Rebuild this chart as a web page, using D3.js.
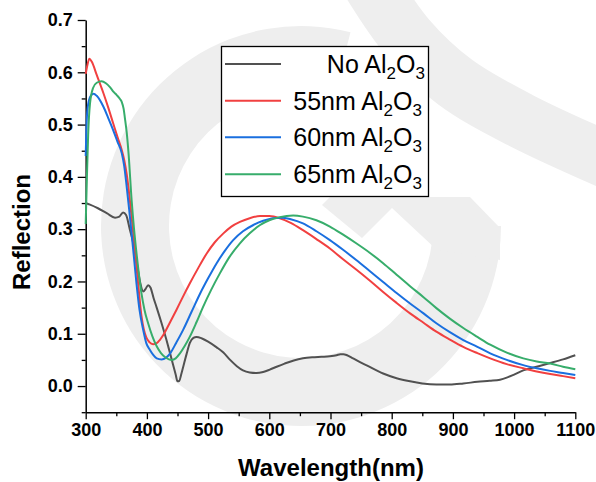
<!DOCTYPE html>
<html>
<head>
<meta charset="utf-8">
<script src="https://cdn.jsdelivr.net/npm/d3@7/dist/d3.min.js"></script>
<style>
  html, body { margin: 0; padding: 0; background: #ffffff; }
  svg { display: block; }
  text { font-family: "Liberation Sans", Arial, sans-serif; }
</style>
</head>
<body>
<svg id="chart" width="596" height="482"></svg>
<script>
// ---------------- DATA ----------------
const seriesNames = ["No", "55nm", "60nm", "65nm"];
const seriesColors = ["#515151", "#F14040", "#1A6FDF", "#37AD6B"];

const noAlX = [300,307,320,335,348,355,361,366,372,378,384,389,394,398,402,406,411,416,424,432,438,443,447,450,453,456,460,465,470,476,481,490,500,514,525,536,547,557,568,579,590,600,612,625,640,655,670,685,699,710,716,721,727,735,743,760,786,808,830,850,873,895,917,940,960,977,990,1000,1015,1040,1059,1080,1100];
const noAlY = [0.350,0.347,0.340,0.330,0.322,0.324,0.332,0.327,0.300,0.272,0.232,0.198,0.181,0.186,0.193,0.188,0.168,0.150,0.120,0.088,0.062,0.040,0.022,0.009,0.010,0.022,0.040,0.062,0.082,0.092,0.094,0.091,0.085,0.074,0.064,0.050,0.038,0.030,0.026,0.025,0.027,0.031,0.037,0.043,0.049,0.053,0.055,0.056,0.057,0.059,0.061,0.061,0.059,0.054,0.049,0.039,0.024,0.015,0.009,0.005,0.003,0.003,0.005,0.008,0.010,0.012,0.017,0.022,0.030,0.038,0.044,0.051,0.059];

const al55X = [300,303,306,310,318,329,337,345,352,359,363,367,371,375,379,383,387,391,395,399,404,410,416,421,427,437,448,459,470,484,498,511,525,538,552,568,585,600,617,635,655,677,699,720,743,765,786,808,830,852,873,895,917,940,961,988,1015,1037,1059,1080,1100];
const al55Y = [0.597,0.615,0.626,0.620,0.595,0.560,0.532,0.502,0.476,0.451,0.432,0.405,0.368,0.324,0.276,0.228,0.180,0.135,0.108,0.093,0.084,0.080,0.082,0.088,0.098,0.120,0.145,0.171,0.196,0.226,0.254,0.275,0.292,0.305,0.314,0.321,0.325,0.325,0.321,0.312,0.298,0.281,0.263,0.243,0.222,0.201,0.180,0.159,0.139,0.121,0.104,0.089,0.075,0.063,0.053,0.042,0.034,0.028,0.023,0.019,0.015];

const al60X = [300,302,305,309,313,318,329,337,345,352,359,363,367,371,375,379,383,388,394,399,405,410,416,424,431,438,448,459,473,487,500,514,527,541,557,574,590,606,620,635,655,677,699,720,742,764,786,808,830,852,873,895,917,940,961,988,1015,1037,1059,1080,1100];
const al60Y = [0.440,0.515,0.545,0.556,0.559,0.555,0.534,0.512,0.489,0.467,0.445,0.420,0.381,0.338,0.292,0.244,0.196,0.145,0.107,0.082,0.069,0.060,0.053,0.051,0.054,0.0625,0.083,0.107,0.142,0.177,0.206,0.235,0.258,0.279,0.296,0.308,0.316,0.321,0.322,0.319,0.311,0.296,0.279,0.261,0.241,0.220,0.199,0.178,0.158,0.139,0.120,0.103,0.088,0.075,0.0625,0.050,0.040,0.034,0.029,0.025,0.021];

const al65X = [300,302,304,307,312,318,326,333,340,346,351,356,359,362,364,367,370,375,379,383,387,391,396,402,409,416,423,430,436,441,447,454,462,470,481,492,505,519,535,552,568,585,600,617,639,655,677,699,720,742,764,786,808,830,852,873,895,917,940,961,988,1015,1037,1059,1080,1100];
const al65Y = [0.310,0.400,0.480,0.540,0.570,0.580,0.583,0.579,0.571,0.562,0.556,0.549,0.543,0.530,0.513,0.485,0.445,0.356,0.300,0.254,0.213,0.178,0.146,0.120,0.095,0.076,0.063,0.055,0.051,0.050,0.053,0.0625,0.077,0.094,0.122,0.152,0.184,0.215,0.247,0.273,0.292,0.308,0.317,0.323,0.326,0.324,0.317,0.305,0.290,0.273,0.255,0.235,0.213,0.191,0.170,0.149,0.129,0.111,0.094,0.079,0.064,0.053,0.047,0.043,0.037,0.032];

const xTickValues = [300,400,500,600,700,800,900,1000,1100];
const yTickValues = [0.0,0.1,0.2,0.3,0.4,0.5,0.6,0.7];
const xDomain = [300, 1100];
const yDomain = [-0.05, 0.7];

// ---------------- LAYOUT ----------------
const svg = d3.select("#chart");
const W = 596, H = 482;
const plot = { left: 85.7, right: 575.3, top: 20, bottom: 412.2 };

const x = d3.scaleLinear().domain(xDomain).range([plot.left, plot.right]);
const y = d3.scaleLinear().domain(yDomain).range([plot.bottom, plot.top]);

svg.append("rect").attr("width", W).attr("height", H).attr("fill", "#ffffff");

// ---------------- WATERMARK (faint background decoration) ----------------
const wm = svg.append("g").attr("fill", "#eeeeee").attr("stroke", "none");
wm.append("path")
  .attr("transform", "translate(301,226)")
  .attr("d", d3.arc()({ innerRadius: 132, outerRadius: 200, startAngle: Math.PI / 2, endAngle: 2 * Math.PI + 0.25 }));
wm.append("path")
  .attr("fill", "none").attr("stroke", "#eeeeee").attr("stroke-width", 56)
  .attr("d", d3.line().curve(d3.curveCatmullRom)([[368, -20], [408, 38], [455, 82], [520, 120], [620, 166]]));
wm.append("path")
  .attr("d", d3.line()([[330, 197], [470, 197], [500, 228], [500, 260], [437, 250], [392, 208], [362, 238], [322, 205], [330, 197]]));

// ---------------- AXES ----------------
const fontTick = "bold 18px 'Liberation Sans', Arial, sans-serif";

const xMinor = d3.range(350, 1100, 100);
const yMinor = d3.range(-0.05, 0.7, 0.1);

// x axis
const gx = svg.append("g").attr("transform", `translate(0,${plot.bottom})`)
  .call(d3.axisBottom(x).tickValues(xTickValues).tickFormat(d3.format("d")).tickSize(7).tickPadding(4).tickSizeOuter(0));
gx.selectAll("text").style("font", fontTick).attr("fill", "#000");
gx.selectAll("line").attr("stroke", "#000").attr("stroke-width", 1.3);
gx.select(".domain").attr("stroke", "#000").attr("stroke-width", 1.5);
const gxm = svg.append("g").attr("transform", `translate(0,${plot.bottom})`)
  .call(d3.axisBottom(x).tickValues(xMinor).tickFormat("").tickSize(4).tickSizeOuter(0));
gxm.select(".domain").remove();
gxm.selectAll("line").attr("stroke", "#000").attr("stroke-width", 1.3);

// y axis
const gy = svg.append("g").attr("transform", `translate(${plot.left},0)`)
  .call(d3.axisLeft(y).tickValues(yTickValues).tickFormat(d3.format(".1f")).tickSize(8).tickPadding(5).tickSizeOuter(0));
gy.selectAll("text").style("font", fontTick).attr("fill", "#000");
gy.selectAll("line").attr("stroke", "#000").attr("stroke-width", 1.3);
gy.select(".domain").attr("stroke", "#000").attr("stroke-width", 1.5);
const gym = svg.append("g").attr("transform", `translate(${plot.left},0)`)
  .call(d3.axisLeft(y).tickValues(yMinor).tickFormat("").tickSize(4).tickSizeOuter(0));
gym.select(".domain").remove();
gym.selectAll("line").attr("stroke", "#000").attr("stroke-width", 1.3);

// axis titles
svg.append("text")
  .attr("x", 331).attr("y", 476)
  .attr("text-anchor", "middle")
  .style("font", "bold 24px 'Liberation Sans', Arial, sans-serif")
  .attr("fill", "#000")
  .text("Wavelength(nm)");
svg.append("text")
  .attr("transform", "translate(30,232) rotate(-90)")
  .attr("text-anchor", "middle")
  .style("font", "bold 24px 'Liberation Sans', Arial, sans-serif")
  .attr("fill", "#000")
  .text("Reflection");

// ---------------- LINES ----------------
const series = [
  { xs: noAlX, ys: noAlY },
  { xs: al55X, ys: al55Y },
  { xs: al60X, ys: al60Y },
  { xs: al65X, ys: al65Y }
];
const line = d3.line().x(d => x(d[0])).y(d => y(d[1])).curve(d3.curveMonotoneX);
const linesG = svg.append("g");
series.forEach((s, i) => {
  linesG.append("path")
    .datum(s.xs.map((v, j) => [v, s.ys[j]]))
    .attr("fill", "none")
    .attr("stroke", seriesColors[i])
    .attr("stroke-width", 2)
    .attr("stroke-linejoin", "round")
    .attr("d", line);
});

// ---------------- LEGEND ----------------
const lg = svg.append("g");
lg.append("rect")
  .attr("x", 221.5).attr("y", 46.5).attr("width", 207).attr("height", 150)
  .attr("fill", "#ffffff").attr("stroke", "#000").attr("stroke-width", 1.3);
const rowY = [64, 100.7, 137.3, 174.3];
seriesNames.forEach((name, i) => {
  lg.append("line")
    .attr("x1", 225).attr("x2", 281)
    .attr("y1", rowY[i]).attr("y2", rowY[i])
    .attr("stroke", seriesColors[i]).attr("stroke-width", 2);
  const t = lg.append("text")
    .attr("x", i === 0 ? 425 : 422).attr("y", rowY[i] + 9)
    .attr("text-anchor", "end")
    .style("font-size", "25px")
    .attr("fill", "#000");
  t.append("tspan").text(name + " Al");
  t.append("tspan").attr("dy", 6).style("font-size", "17px").text("2");
  t.append("tspan").attr("dy", -6).text("O");
  t.append("tspan").attr("dy", 6).style("font-size", "17px").text("3");
});
</script>
</body>
</html>
